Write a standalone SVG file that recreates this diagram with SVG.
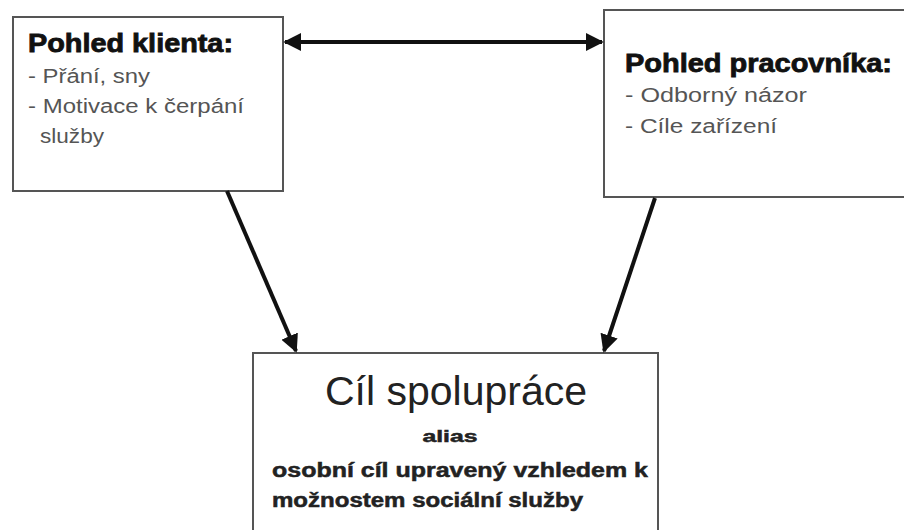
<svg xmlns="http://www.w3.org/2000/svg" width="904" height="530" viewBox="0 0 904 530">
<defs>
<style>
.box{fill:#fff;stroke:#555;stroke-width:2}
.ttl{font-family:"Liberation Sans",Arial,sans-serif;font-weight:bold;fill:#111;stroke:#111;stroke-width:0.8}
.itm{font-family:"Liberation Sans",Arial,sans-serif;fill:#555}
.big{font-family:"Liberation Sans",Arial,sans-serif;fill:#222}
.bld{font-family:"Liberation Sans",Arial,sans-serif;font-weight:bold;fill:#222;stroke:#222;stroke-width:0.5}
.con{stroke:#111;stroke-width:4;fill:none}
</style>
<marker id="ah" viewBox="0 0 10 10" refX="9" refY="5" markerWidth="4.5" markerHeight="4.5" orient="auto-start-reverse" markerUnits="strokeWidth">
<path d="M0,0 L10,5 L0,10 Z" fill="#111"/>
</marker>
</defs>
<rect width="904" height="530" fill="#fff"/>
<g id="client">
<rect class="box" x="13" y="17" width="270" height="174"/>
<text class="ttl" x="28" y="52" font-size="25" textLength="205" lengthAdjust="spacingAndGlyphs">Pohled klienta:</text>
<text class="itm" x="28" y="83" font-size="20" textLength="122" lengthAdjust="spacingAndGlyphs">- Přání, sny</text>
<text class="itm" x="28" y="113" font-size="20" textLength="216" lengthAdjust="spacingAndGlyphs">- Motivace k čerpání</text>
<text class="itm" x="40" y="143" font-size="20" textLength="64" lengthAdjust="spacingAndGlyphs">služby</text>
</g>
<g id="worker">
<rect class="box" x="604" y="10" width="310" height="187"/>
<text class="ttl" x="625" y="72" font-size="25" textLength="267" lengthAdjust="spacingAndGlyphs">Pohled pracovníka:</text>
<text class="itm" x="625" y="102" font-size="20" textLength="182" lengthAdjust="spacingAndGlyphs">- Odborný názor</text>
<text class="itm" x="625" y="133" font-size="20" textLength="152" lengthAdjust="spacingAndGlyphs">- Cíle zařízení</text>
</g>
<g id="goal">
<rect class="box" x="253" y="353" width="405" height="190"/>
<text class="big" x="456" y="405" font-size="41" text-anchor="middle" textLength="262" lengthAdjust="spacingAndGlyphs">Cíl spolupráce</text>
<text class="bld" x="450" y="442" font-size="17" text-anchor="middle" textLength="55" lengthAdjust="spacingAndGlyphs">alias</text>
<text class="bld" x="272" y="477" font-size="20" textLength="376" lengthAdjust="spacingAndGlyphs">osobní cíl upravený vzhledem k</text>
<text class="bld" x="272" y="507" font-size="20" textLength="311" lengthAdjust="spacingAndGlyphs">možnostem sociální služby</text>
</g>
<g id="connectors">
<line class="con" x1="285" y1="42" x2="602" y2="42" marker-start="url(#ah)" marker-end="url(#ah)"/>
<line class="con" x1="227" y1="191" x2="296" y2="351" marker-end="url(#ah)"/>
<line class="con" x1="655" y1="198" x2="604" y2="351" marker-end="url(#ah)"/>
</g>
</svg>
